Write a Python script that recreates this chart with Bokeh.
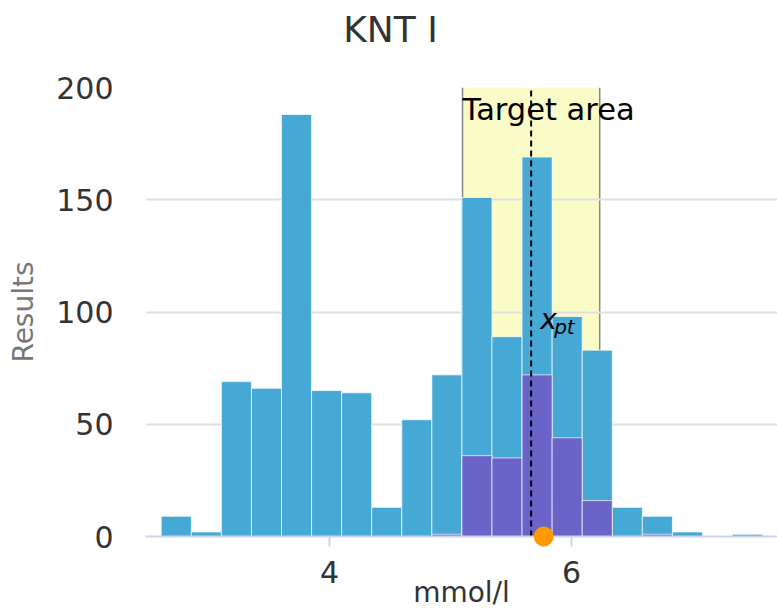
from bokeh.plotting import figure
from bokeh.models import Range1d, FixedTicker, ColumnDataSource
from bokeh.core.properties import value
from bokeh.embed import file_html
from bokeh.resources import INLINE

# ---- data ----
bin_edges = [2.61, 2.8585, 3.107, 3.3555, 3.604, 3.8525, 4.101, 4.3495, 4.598, 4.8465,
             5.095, 5.3435, 5.592, 5.8405, 6.089, 6.3375, 6.586, 6.8345, 7.083, 7.3315, 7.58]
all_results = [9, 2, 69, 66, 188, 65, 64, 13, 52, 72, 151, 89, 169, 98, 83, 13, 9, 2, 0, 1]
group_results = [0, 0, 0, 0, 0, 0, 0, 0, 0, 1, 36, 35, 72, 44, 16, 0, 1, 0, 0, 0]
x_pt = 5.667
target_rel = 0.10
participant = [5.771]
x_ticks = [4, 6]
y_ticks = [0, 50, 100, 150, 200]
title_text = "KNT I"
x_label = "mmol/l"
y_label = "Results"
target_label = "Target area"

FONT = "DejaVu Sans"
W, H = 777, 616
B_LEFT, B_TOP, B_BOTTOM = 145, 87, 80
X0, X1, Y0, Y1 = 2.48, 7.703, 0, 200

p = figure(width=W, height=H, output_backend="svg", toolbar_location=None,
           x_range=Range1d(X0, X1), y_range=Range1d(Y0, Y1),
           min_border_left=B_LEFT, min_border_right=0, min_border_top=B_TOP,
           min_border_bottom=B_BOTTOM)
p.outline_line_color = None
p.background_fill_color = "white"

# title: centred on the whole chart, drawn above the frame (pixel -> data conversion)
frame_w = W - B_LEFT
frame_h = H - B_TOP - B_BOTTOM
title_x = X0 + (W / 2 + 1.5 - B_LEFT) * (X1 - X0) / frame_w
title_y = Y1 + 58 * (Y1 - Y0) / frame_h
p.text(x=[title_x], y=[title_y], text=[title_text], text_font=value(FONT),
       text_font_size="36px", text_color="#333333", text_align="center",
       text_baseline="alphabetic", level="overlay")

# target area band
lo, hi = x_pt * (1 - target_rel), x_pt * (1 + target_rel)
p.quad(left=[lo], right=[hi], bottom=[0], top=[200], fill_color="#FAFCC8",
       line_color=None, level="image")
p.segment(x0=[lo, hi], y0=[0, 0], x1=[lo, hi], y1=[200, 200], line_color="#888888",
          line_width=1.5, level="image")

# histogram bars
src_all = ColumnDataSource(dict(left=bin_edges[:-1], right=bin_edges[1:], top=all_results))
src_grp = ColumnDataSource(dict(left=bin_edges[:-1], right=bin_edges[1:], top=group_results))
p.quad(left="left", right="right", bottom=0, top="top", source=src_all,
       fill_color="#45A8D5", line_color="white", line_alpha=0.7, line_width=1)
p.quad(left="left", right="right", bottom=0, top="top", source=src_grp,
       fill_color="#6A64C9", line_color="white", line_alpha=0.7, line_width=1)

# x_pt dashed line
p.segment(x0=[x_pt], y0=[0], x1=[x_pt], y1=[200], line_color="black",
          line_width=2, line_dash="6 4")

# labels
p.text(x=[lo], y=[200], text=[target_label], text_font=value(FONT), text_font_size="30.5px",
       text_align="left", text_baseline="top", y_offset=4, text_color="black")
p.text(x=[x_pt], y=[92.5], text=["x"], text_font=value(FONT), text_font_size="28px",
       text_font_style="italic", text_align="left", text_baseline="alphabetic",
       x_offset=9, y_offset=-9, text_color="black")
p.text(x=[x_pt], y=[92.5], text=["pt"], text_font=value(FONT), text_font_size="20px",
       text_font_style="italic", text_align="left", text_baseline="alphabetic",
       x_offset=23, y_offset=-2, text_color="black")

# participant dot
p.scatter(x=participant, y=[0], size=20, fill_color="#FF9900", line_color=None, level="overlay")

# axes
p.xaxis.ticker = FixedTicker(ticks=x_ticks)
p.yaxis.ticker = FixedTicker(ticks=y_ticks)
p.xaxis.axis_line_color = "#ccd6eb"
p.xaxis.axis_line_width = 2
p.xaxis.major_tick_line_color = "#ccd6eb"
p.xaxis.major_tick_line_width = 2
p.xaxis.major_tick_out = 10
p.xaxis.major_tick_in = 0
p.xaxis.minor_tick_line_color = None
p.xaxis.major_label_standoff = 14
p.xaxis.major_label_text_font = FONT
p.xaxis.major_label_text_font_size = "30px"
p.xaxis.major_label_text_color = "#333333"
p.xaxis.axis_label = x_label
p.xaxis.axis_label_text_font = FONT
p.xaxis.axis_label_text_font_size = "28px"
p.xaxis.axis_label_text_font_style = "normal"
p.xaxis.axis_label_text_color = "#333333"
p.xaxis.axis_label_standoff = -10

p.yaxis.axis_line_color = None
p.yaxis.major_tick_line_color = None
p.yaxis.minor_tick_line_color = None
p.yaxis.major_tick_out = 0
p.yaxis.major_tick_in = 0
p.yaxis.major_label_standoff = 32
p.yaxis.major_label_text_font = FONT
p.yaxis.major_label_text_font_size = "30px"
p.yaxis.major_label_text_color = "#333333"
p.yaxis.axis_label = y_label
p.yaxis.axis_label_text_font = FONT
p.yaxis.axis_label_text_font_size = "28px"
p.yaxis.axis_label_text_font_style = "normal"
p.yaxis.axis_label_text_color = "#777777"
p.yaxis.axis_label_standoff = 13

p.xgrid.grid_line_color = None
p.ygrid.grid_line_color = "#e0e0e0"
p.ygrid.grid_line_width = 2

open("out.html", "w").write(file_html(p, INLINE))
